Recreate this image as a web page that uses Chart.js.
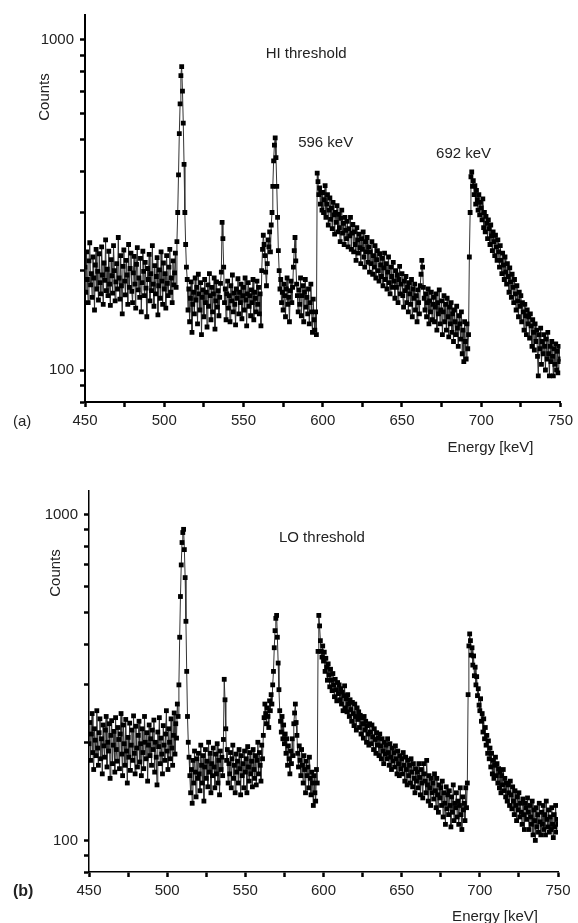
<!DOCTYPE html>
<html>
<head>
<meta charset="utf-8">
<script src="https://cdn.jsdelivr.net/npm/chart.js@4.4.1/dist/chart.umd.min.js"></script>
<style>
html, body { margin: 0; padding: 0; background: #fff; }
canvas { position: absolute; left: 0; }
#panelA { top: 0; }
#panelB { top: 462px; }
</style>
</head>
<body>
<canvas id="panelA" width="578" height="462"></canvas>
<canvas id="panelB" width="578" height="461"></canvas>
<script>
// channels every 0.5 keV, first channel at 450 keV
const energyStart = 450;
const energyStep = 0.5;

// HI threshold spectrum, 450..750 keV (one row = 5 keV)
const countsHi = [
    205, 172, 228, 188, 160, 214, 243, 181, 196, 166,
    220, 190, 152, 208, 232, 176, 199, 163, 225, 184,
    170, 236, 194, 158, 211, 187, 248, 174, 202, 168,
    229, 182, 157, 216, 193, 171, 238, 200, 162, 185,
    210, 176, 252, 190, 164, 222, 180, 148, 206, 231,
    186, 169, 215, 194, 158, 240, 178, 203, 226, 173,
    160, 197, 221, 182, 154, 209, 235, 175, 190, 166,
    218, 150, 184, 229, 199, 168, 212, 177, 145, 203,
    188, 224, 162, 196, 174, 238, 182, 156, 207, 170,
    192, 219, 147, 180, 201, 165, 228, 186, 158, 211,
    176, 196, 154, 222, 183, 168, 205, 232, 172, 190,
    160, 214, 181, 197, 226, 178, 245, 300, 390, 520,
    640, 780, 830, 700, 560, 420, 300, 240, 205, 188,
    152, 176, 140, 165, 185, 130, 158, 172, 148, 190,
    163, 178, 138, 195, 170, 152, 184, 128, 166, 175,
    145, 188, 160, 172, 135, 181, 156, 196, 168, 142,
    178, 150, 170, 190, 133, 162, 185, 155, 174, 146,
    166, 183, 198, 280, 250, 205, 160, 176, 142, 170,
    186, 154, 168, 140, 180, 162, 194, 150, 171, 158,
    137, 176, 165, 189, 148, 172, 160, 182, 143, 168,
    178, 152, 190, 163, 136, 170, 184, 156, 168, 146,
    175, 160, 188, 142, 172, 165, 150, 186, 158, 178,
    148, 170, 136, 200, 232, 256, 240, 222, 198, 180,
    210, 248, 236, 262, 228, 275, 300, 360, 430, 480,
    505, 440, 360, 290, 230, 200, 176, 188, 160, 172,
    152, 182, 168, 145, 176, 190, 158, 166, 140, 174,
    186, 160, 178, 205, 230, 252, 214, 182, 168, 150,
    175, 158, 190, 146, 168, 180, 140, 172, 188, 155,
    166, 148, 176, 138, 160, 182, 150, 130, 164, 142,
    132, 150, 128, 395, 372, 340, 356, 318, 345, 305,
    345, 300, 328, 362, 290, 318, 340, 275, 305, 332,
    286, 310, 268, 322, 295, 258, 300, 280, 315, 262,
    296, 270, 245, 288, 305, 260, 278, 240, 290, 265,
    250, 282, 236, 268, 255, 290, 232, 260, 276, 228,
    262, 240, 215, 270, 248, 226, 258, 235, 210, 250,
    232, 262, 220, 205, 245, 228, 252, 212, 236, 198,
    228, 210, 245, 195, 222, 205, 238, 190, 216, 230,
    200, 186, 225, 208, 192, 218, 180, 204, 226, 188,
    210, 176, 198, 220, 184, 170, 205, 192, 178, 212,
    186, 165, 200, 178, 194, 160, 188, 206, 170, 182,
    196, 168, 155, 186, 174, 192, 160, 178, 150, 184,
    170, 158, 188, 145, 176, 165, 182, 152, 168, 140,
    175, 160, 148, 180, 195, 215, 205, 178, 165, 152,
    170, 145, 160, 176, 138, 162, 150, 172, 142, 158,
    166, 140, 155, 170, 132, 160, 148, 175, 138, 152,
    162, 128, 150, 168, 140, 158, 132, 165, 145, 126,
    155, 138, 160, 130, 148, 122, 152, 140, 128, 156,
    134, 118, 146, 138, 124, 150, 112, 132, 106, 140,
    122, 108, 138, 116, 128, 220, 300, 385, 398, 360,
    375, 340, 362, 318, 350, 328, 305, 340, 295, 322,
    310, 285, 330, 270, 300, 262, 292, 278, 250, 285,
    268, 240, 275, 255, 230, 262, 245, 222, 256, 236,
    215, 248, 228, 205, 238, 215, 196, 226, 208, 188,
    220, 198, 182, 210, 192, 172, 204, 185, 166, 195,
    178, 160, 188, 170, 152, 180, 162, 145, 172, 156,
    168, 140, 160, 150, 132, 158, 146, 128, 152, 138,
    145, 125, 148, 136, 118, 142, 130, 115, 138, 122,
    132, 110, 96, 128, 116, 134, 104, 122, 112, 128,
    118, 100, 124, 108, 130, 112, 96, 118, 106, 122,
    110, 96, 116, 104, 120, 100, 114, 98, 118, 106,
    108
];

// LO threshold spectrum, 450..750 keV (one row = 5 keV)
const countsLo = [
    198, 230, 176, 212, 245, 186, 165, 220, 203, 182,
    250, 192, 170, 214, 236, 178, 205, 160, 226, 195,
    180, 218, 240, 168, 200, 188, 228, 155, 210, 233,
    172, 196, 216, 162, 238, 190, 175, 222, 204, 166,
    212, 245, 184, 158, 226, 198, 170, 235, 188, 150,
    207, 180, 229, 164, 196, 218, 176, 241, 185, 160,
    224, 192, 168, 210, 232, 174, 198, 158, 220, 186,
    166, 240, 200, 178, 214, 152, 196, 226, 182, 205,
    170, 218, 190, 234, 162, 200, 180, 148, 215, 194,
    238, 172, 206, 184, 160, 225, 196, 176, 212, 250,
    188, 165, 220, 200, 178, 236, 192, 170, 210, 246,
    184, 228, 206, 262, 240, 300, 420, 560, 700, 820,
    880, 900, 780, 640, 470, 330, 240, 200, 180, 158,
    140, 165, 130, 176, 150, 188, 162, 136, 178, 155,
    185, 160, 142, 196, 170, 150, 182, 132, 168, 190,
    155, 175, 146, 200, 162, 185, 140, 172, 158, 192,
    168, 145, 184, 160, 198, 150, 176, 138, 188, 165,
    180, 158, 204, 312, 270, 220, 176, 190, 150, 172,
    160, 186, 145, 178, 196, 155, 170, 140, 184, 162,
    175, 150, 190, 166, 138, 182, 158, 172, 145, 188,
    162, 178, 140, 194, 168, 152, 186, 160, 175, 146,
    190, 165, 155, 182, 148, 176, 200, 160, 186, 170,
    152, 196, 178, 210, 238, 262, 245, 228, 255, 240,
    222, 268, 250, 280, 262, 300, 330, 390, 440, 480,
    490, 420, 350, 290, 250, 232, 215, 240, 205, 226,
    198, 212, 185, 205, 170, 195, 178, 160, 188, 172,
    205, 182, 228, 246, 262, 230, 210, 185, 168, 195,
    176, 158, 190, 170, 150, 182, 165, 140, 175, 158,
    168, 145, 180, 155, 138, 162, 150, 128, 158, 140,
    132, 165, 150, 380, 490, 455, 410, 380, 365, 395,
    355, 378, 330, 362, 340, 310, 348, 322, 296, 335,
    310, 288, 325, 300, 276, 312, 290, 268, 305, 282,
    300, 270, 292, 262, 285, 250, 278, 298, 255, 272,
    248, 280, 262, 240, 270, 252, 232, 265, 245, 225,
    262, 240, 218, 255, 235, 248, 222, 242, 212, 238,
    228, 206, 240, 218, 232, 200, 225, 212, 196, 228,
    215, 198, 226, 208, 190, 220, 204, 185, 214, 196,
    206, 182, 212, 195, 178, 205, 188, 172, 200, 184,
    196, 178, 205, 186, 170, 198, 180, 165, 192, 175,
    186, 168, 195, 178, 160, 188, 172, 158, 182, 166,
    178, 160, 186, 170, 152, 180, 165, 148, 176, 158,
    170, 150, 178, 162, 146, 172, 155, 140, 166, 152,
    162, 145, 172, 156, 138, 165, 150, 135, 172, 160,
    152, 140, 176, 148, 132, 158, 145, 128, 155, 140,
    150, 134, 160, 142, 126, 155, 138, 122, 148, 135,
    145, 128, 152, 118, 140, 130, 112, 146, 125, 138,
    120, 142, 128, 110, 136, 122, 148, 115, 130, 126,
    140, 118, 132, 112, 128, 145, 120, 108, 136, 124,
    130, 115, 145, 126, 150, 280, 395, 430, 410, 370,
    390, 345, 368, 320, 340, 300, 318, 278, 292, 260,
    250, 272, 232, 245, 215, 236, 205, 222, 196, 210,
    185, 202, 178, 192, 168, 185, 160, 176, 155, 170,
    180, 158, 172, 150, 166, 145, 162, 140, 158, 148,
    165, 142, 155, 136, 150, 132, 148, 140, 128, 152,
    138, 125, 146, 132, 120, 142, 128, 115, 136, 124,
    140, 118, 130, 122, 112, 134, 120, 108, 130, 126,
    116, 135, 122, 108, 128, 118, 112, 132, 104, 124,
    115, 100, 126, 110, 120, 106, 130, 114, 104, 122,
    112, 128, 108, 120, 104, 132, 116, 110, 124, 106,
    118, 108, 126, 112, 102, 120, 110, 128, 106, 116,
    112
];

const xTicks = [450, 475, 500, 525, 550, 575, 600, 625, 650, 675, 700, 725, 750];
const xLabels = [450, 500, 550, 600, 650, 700, 750];
const yTicks = [80, 90, 100, 200, 300, 400, 500, 600, 700, 800, 900, 1000];
const yLabels = [100, 1000];

const FONT = '"Liberation Sans", Arial, Helvetica, sans-serif';

const panelText = {
    id: "panelText",
    afterDraw(chart, args, opts) {
        const { ctx, chartArea, scales } = chart;
        ctx.save();
        ctx.fillStyle = "#222";
        ctx.font = "15px " + FONT;
        ctx.textBaseline = "middle";
        ctx.textAlign = "left";
        opts.notes.forEach(n => {
            ctx.fillText(n.text, scales.x.getPixelForValue(n.x), scales.y.getPixelForValue(n.y));
        });

        ctx.textAlign = "right";
        ctx.fillText("Energy [keV]", chartArea.right - opts.energyInset, chartArea.bottom + opts.energyDrop);

        ctx.save();
        ctx.translate(opts.countsX, opts.countsY);
        ctx.rotate(-Math.PI / 2);
        ctx.textAlign = "center";
        ctx.fillText("Counts", 0, 0);
        ctx.restore();

        ctx.textAlign = "left";
        ctx.font = opts.tagFont;
        ctx.fillText(opts.tag, 13, chartArea.bottom + 20);
        ctx.restore();
    }
};

function renderPanel(ctx, counts, cfg) {
    new Chart(ctx, {
        type: "line",
        data: {
            datasets: [{
                data: counts.map((c, i) => ({ x: energyStart + i * energyStep, y: c })),
                borderColor: "#333",
                borderWidth: 1,
                pointStyle: "rect",
                pointRadius: 3.4,
                pointBackgroundColor: "#000",
                pointBorderWidth: 0,
                tension: 0
            }]
        },
        options: {
            animation: false,
            responsive: false,
            devicePixelRatio: 1,
            layout: { padding: { left: 0, right: cfg.padRight, top: cfg.padTop, bottom: 0 } },
            plugins: {
                legend: { display: false },
                tooltip: { enabled: false },
                panelText: cfg.text
            },
            scales: {
                x: {
                    type: "linear",
                    min: 450,
                    max: 750,
                    afterBuildTicks: s => { s.ticks = xTicks.map(v => ({ value: v })); },
                    afterFit: s => { s.height = cfg.xHeight; },
                    border: { color: "#000", width: cfg.axisWidth },
                    grid: { drawOnChartArea: false, drawTicks: true, tickLength: 5, tickWidth: 2.5, tickColor: "#000" },
                    ticks: {
                        autoSkip: false,
                        maxRotation: 0,
                        padding: 5,
                        color: "#222",
                        font: { family: FONT, size: 15 },
                        callback: v => xLabels.includes(v) ? String(v) : ""
                    }
                },
                y: {
                    type: "logarithmic",
                    min: 80,
                    max: cfg.yMax,
                    afterBuildTicks: s => { s.ticks = yTicks.map(v => ({ value: v })); },
                    afterFit: s => { s.width = cfg.yWidth; },
                    border: { color: "#000", width: cfg.axisWidth },
                    grid: { drawOnChartArea: false, drawTicks: true, tickLength: 5, tickWidth: 2.5, tickColor: "#000" },
                    ticks: {
                        autoSkip: false,
                        padding: 6,
                        color: "#222",
                        font: { family: FONT, size: 15 },
                        callback: v => yLabels.includes(v) ? String(v) : ""
                    }
                }
            }
        },
        plugins: [panelText]
    });
}

renderPanel(document.getElementById("panelA"), countsHi, {
    padRight: 14, padTop: 14, xHeight: 60, yWidth: 85, yMax: 1190, axisWidth: 2,
    text: {
        notes: [
            { text: "HI threshold", x: 564, y: 905 },
            { text: "596 keV", x: 584.5, y: 489 },
            { text: "692 keV", x: 671.5, y: 453 }
        ],
        energyInset: 27, energyDrop: 46,
        countsX: 45, countsY: 97,
        tag: "(a)", tagFont: "15px " + FONT
    }
});

renderPanel(document.getElementById("panelB"), countsLo, {
    padRight: 20, padTop: 29, xHeight: 51, yWidth: 89, yMax: 1180, axisWidth: 1.5,
    text: {
        notes: [
            { text: "LO threshold", x: 571.5, y: 850 }
        ],
        energyInset: 20, energyDrop: 45,
        countsX: 56, countsY: 111,
        tag: "(b)", tagFont: "bold 16px " + FONT
    }
});
</script>
</body>
</html>
